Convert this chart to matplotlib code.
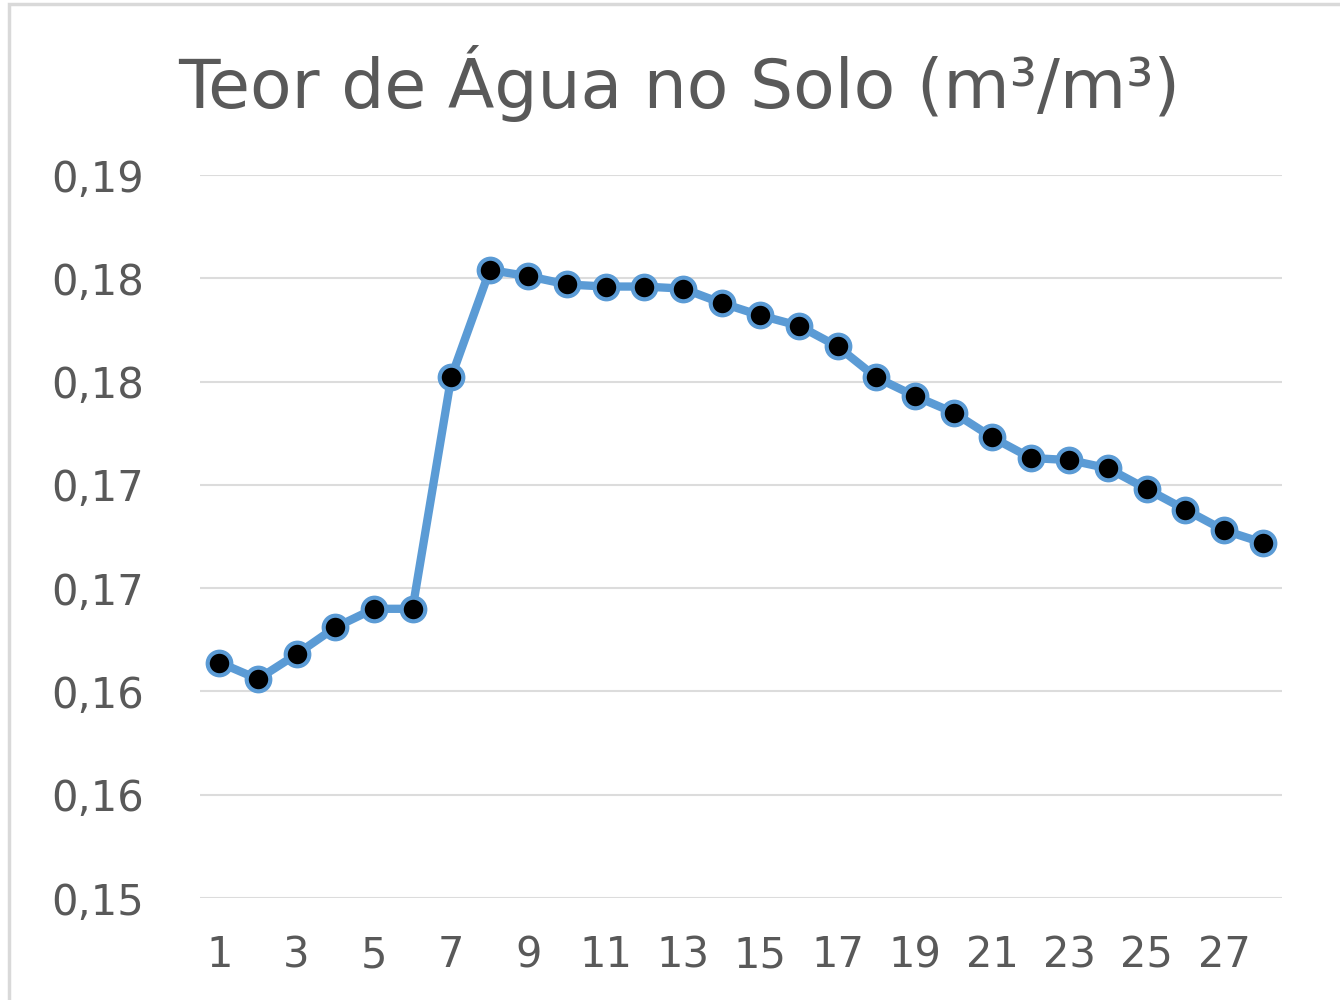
import matplotlib.pyplot as plt
from matplotlib.patches import Rectangle

days = list(range(1, 29))
teor = [0.1614, 0.1606, 0.1618, 0.1631, 0.1640, 0.1640, 0.1752, 0.1804,
        0.1801, 0.1797, 0.1796, 0.1796, 0.1795, 0.1788, 0.1782, 0.1777,
        0.1767, 0.1752, 0.1743, 0.1735, 0.1723, 0.1713, 0.1712, 0.1708,
        0.1698, 0.1688, 0.1678, 0.1672]
y_ticks = [0.150, 0.155, 0.160, 0.165, 0.170, 0.175, 0.180, 0.185]
y_labels = ["0,15", "0,16", "0,16", "0,17", "0,17", "0,18", "0,18", "0,19"]
x_ticks = list(range(1, 29, 2))
title = "Teor de Água no Solo (m³/m³)"

TXT = "#595959"
BLUE = "#5b9bd5"

plt.rcParams['font.family'] = ['DejaVu Sans']

fig = plt.figure(figsize=(13.4, 10), dpi=100)
fig.patches.append(Rectangle((9 / 1340, -0.1), 1.2, 1.1 - 4 / 1000,
                             transform=fig.transFigure, fill=False,
                             edgecolor="#d9d9d9", linewidth=2.5))
ax = fig.add_axes([200 / 1340, 0.102, 1082 / 1340, 0.723])

ax.plot(days, teor, color=BLUE, linewidth=6, marker="o", markersize=17,
        markerfacecolor="black", markeredgecolor=BLUE, markeredgewidth=3,
        zorder=3)

ax.set_xlim(0.5, 28.5)
ax.set_ylim(0.150, 0.185)
ax.set_yticks(y_ticks)
ax.set_yticklabels(y_labels)
ax.set_xticks(x_ticks)
ax.set_xticklabels([str(d) for d in x_ticks])
ax.tick_params(axis="both", length=0, colors=TXT, labelsize=30)
for lab in ax.get_yticklabels():
    lab.set_horizontalalignment("left")
ax.tick_params(axis="y", pad=107)
ax.tick_params(axis="x", pad=26)
ax.grid(axis="y", color="#dcdcdc", linewidth=1.5)
ax.set_axisbelow(True)
for s in ax.spines.values():
    s.set_visible(False)

fig.text(0.507, 0.917, title, ha="center", va="center", fontsize=49,
         color=TXT)

fig.savefig("out.png", dpi=100)
